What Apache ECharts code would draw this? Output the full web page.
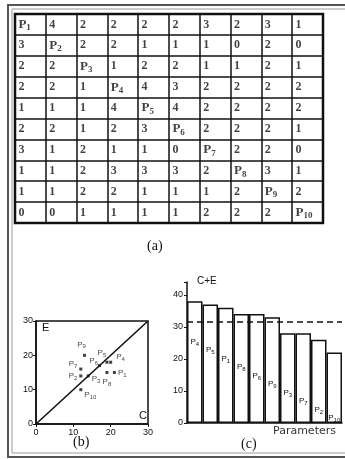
<!DOCTYPE html>
<html>
<head>
<meta charset="utf-8">
<script src="https://cdn.jsdelivr.net/npm/echarts@6/dist/echarts.min.js"></script>
<style>
  html, body { margin: 0; padding: 0; background: #fff; }
  #chart { width: 345px; height: 459px; }
</style>
</head>
<body>
<div id="chart"></div>
<script>
// Parameter names and the pairwise influence matrix (row influences column; diagonal holds the name)
const params = ['P1', 'P2', 'P3', 'P4', 'P5', 'P6', 'P7', 'P8', 'P9', 'P10'];
const matrixRows = [
  [null, 4, 2, 2, 2, 2, 3, 2, 3, 1],
  [3, null, 2, 2, 1, 1, 1, 0, 2, 0],
  [2, 2, null, 1, 2, 2, 1, 1, 2, 1],
  [2, 2, 1, null, 4, 3, 2, 2, 2, 2],
  [1, 1, 1, 4, null, 4, 2, 2, 2, 2],
  [2, 2, 1, 2, 3, null, 2, 2, 2, 1],
  [3, 1, 2, 1, 1, 0, null, 2, 2, 0],
  [1, 1, 2, 3, 3, 3, 2, null, 3, 1],
  [1, 1, 2, 2, 1, 1, 1, 2, null, 2],
  [0, 0, 1, 1, 1, 1, 2, 2, 2, null]
];

// Cause (C) and effect (E) totals per parameter
const causeC = [21, 12, 14, 20, 19, 17, 12, 19, 13, 12];
const effectE = [15, 14, 14, 18, 18, 17, 16, 15, 20, 10];

// Interactive intensity C+E, ranked
const rankedParams = ['P4', 'P5', 'P1', 'P8', 'P6', 'P9', 'P3', 'P7', 'P2', 'P10'];
const rankedCE = [38, 37, 36, 34, 34, 33, 28, 28, 26, 22];
const meanCE = 31.6;

const ink = '#111';

function pName(name) {
  return '{p|P}{s|' + name.slice(1) + '}';
}

// Table cells: [column, row, text]
const cellData = [];
matrixRows.forEach(function (row, r) {
  row.forEach(function (v, c) {
    cellData.push([c, r, v === null ? params[r] : String(v)]);
  });
});

// Label placement for the cause/effect points
const pointLabel = {
  P1: { position: 'right', offset: [0, 0] },
  P2: { position: 'left', offset: [0, 0] },
  P3: { position: 'right', offset: [0, 3] },
  P4: { position: 'right', offset: [2, -5] },
  P5: { position: 'top', offset: [-5, 0] },
  P6: { position: 'left', offset: [2, -5] },
  P7: { position: 'left', offset: [0, -5] },
  P8: { position: 'bottom', offset: [0, 0] },
  P9: { position: 'top', offset: [-3, -2] },
  P10: { position: 'right', offset: [0, 5] }
};

const scatterData = params.map(function (p, i) {
  return {
    name: p,
    value: [causeC[i], effectE[i]],
    label: pointLabel[p]
  };
});

const chart = echarts.init(document.getElementById('chart'), null, { renderer: 'canvas' });

const smallRich = {
  p: { fontSize: 8, color: ink, fontFamily: 'Liberation Sans' },
  s: { fontSize: 6, color: ink, fontFamily: 'Liberation Sans', padding: [5, 0, 0, 0] }
};

const option = {
  backgroundColor: '#fff',
  animation: false,
  textStyle: { fontFamily: 'Liberation Serif', color: ink },
  graphic: [
    { type: 'rect', shape: { x: 8, y: 5, width: 400, height: 452 }, style: { fill: 'none', stroke: '#555', lineWidth: 2 }, silent: true },
    { type: 'rect', shape: { x: 12, y: 9, width: 400, height: 444 }, style: { fill: 'none', stroke: '#999', lineWidth: 1 }, silent: true },
    { type: 'text', left: 147, top: 239, style: { text: '(a)', font: '14px "Liberation Serif"', fill: ink } },
    { type: 'text', left: 73, top: 435, style: { text: '(b)', font: '14px "Liberation Serif"', fill: ink } },
    { type: 'text', left: 241, top: 437, style: { text: '(c)', font: '14px "Liberation Serif"', fill: ink } }
  ],
  grid: [
    { left: 15, top: 14, width: 308, height: 209, show: true, borderColor: ink, borderWidth: 2.5, backgroundColor: '#fff' },
    { left: 36, top: 321, width: 112, height: 103, show: true, borderColor: ink, borderWidth: 1.5 },
    { left: 187, top: 282, width: 155, height: 141 }
  ],
  xAxis: [
    {
      gridIndex: 0, type: 'category', data: params, boundaryGap: true,
      axisLine: { show: false }, axisTick: { show: false }, axisLabel: { show: false },
      splitLine: { show: true, lineStyle: { color: ink, width: 1.5 } }
    },
    {
      gridIndex: 1, type: 'value', min: 0, max: 30, interval: 10,
      name: 'C', nameLocation: 'end', nameGap: -9,
      nameTextStyle: { fontFamily: 'Liberation Sans', fontSize: 11, color: ink, verticalAlign: 'bottom', padding: [0, 0, 3, 0] },
      axisLine: { show: true, lineStyle: { color: ink, width: 1.5 } },
      axisTick: { show: true, length: 3, lineStyle: { color: ink } },
      axisLabel: { fontFamily: 'Liberation Sans', fontSize: 9, color: ink, margin: 4 },
      splitLine: { show: false }
    },
    {
      gridIndex: 2, type: 'category', data: rankedParams, boundaryGap: true,
      name: 'Parameters', nameLocation: 'end', nameGap: -69,
      nameTextStyle: { fontFamily: 'DejaVu Sans', fontSize: 11, color: '#333', align: 'left', verticalAlign: 'top', padding: [3, 0, 0, 0] },
      axisLine: { show: true, lineStyle: { color: ink, width: 1.5 } },
      axisTick: { show: false }, axisLabel: { show: false }, splitLine: { show: false }
    }
  ],
  yAxis: [
    {
      gridIndex: 0, type: 'category', data: params, inverse: true, boundaryGap: true,
      axisLine: { show: false }, axisTick: { show: false }, axisLabel: { show: false },
      splitLine: { show: true, lineStyle: { color: ink, width: 1.5 } }
    },
    {
      gridIndex: 1, type: 'value', min: 0, max: 30, interval: 10,
      name: 'E', nameLocation: 'end', nameGap: -12,
      nameTextStyle: { fontFamily: 'Liberation Sans', fontSize: 11, color: ink, align: 'left', padding: [0, 0, 0, 6] },
      axisLine: { show: true, lineStyle: { color: ink, width: 1.5 } },
      axisTick: { show: true, length: 3, lineStyle: { color: ink } },
      axisLabel: { fontFamily: 'Liberation Sans', fontSize: 9, color: ink, margin: 3 },
      splitLine: { show: false }
    },
    {
      gridIndex: 2, type: 'value', min: 0, max: 44, interval: 10,
      name: 'C+E', nameLocation: 'end', nameGap: -4,
      nameTextStyle: { fontFamily: 'Liberation Sans', fontSize: 10, color: ink, align: 'left', padding: [0, 0, 0, 10] },
      axisLine: { show: true, lineStyle: { color: ink, width: 1.5 } },
      axisTick: { show: true, length: 3, lineStyle: { color: ink } },
      axisLabel: {
        fontFamily: 'Liberation Sans', fontSize: 9, color: ink, margin: 4,
        formatter: function (v) { return v % 10 === 0 ? String(v) : ''; }
      },
      splitLine: { show: false }
    }
  ],
  series: [
    {
      // table cell texts
      type: 'scatter', xAxisIndex: 0, yAxisIndex: 0,
      data: cellData, symbolSize: 1, itemStyle: { color: 'rgba(0,0,0,0)' },
      label: {
        show: true, position: 'inside', align: 'left', offset: [-12, 0],
        formatter: function (p) {
          const t = p.value[2];
          return t.charAt(0) === 'P' ? '{bp|P}{bs|' + t.slice(1) + '}' : '{d|' + t + '}';
        },
        rich: {
          d: { fontFamily: 'Liberation Serif', fontWeight: 'bold', fontSize: 12, color: ink },
          bp: { fontFamily: 'Liberation Serif', fontWeight: 'bold', fontSize: 13, color: ink },
          bs: { fontFamily: 'Liberation Serif', fontWeight: 'bold', fontSize: 9, color: ink, padding: [7, 0, 0, 0] }
        }
      }
    },
    {
      // line C = E
      type: 'line', xAxisIndex: 1, yAxisIndex: 1,
      data: [[0, 0], [30, 30]], symbol: 'none',
      lineStyle: { color: ink, width: 1.6 }
    },
    {
      type: 'scatter', xAxisIndex: 1, yAxisIndex: 1,
      data: scatterData, symbol: 'rect', symbolSize: 3,
      itemStyle: { color: ink },
      label: {
        show: true, distance: 2,
        formatter: function (p) { return pName(p.name); },
        rich: smallRich
      }
    },
    {
      type: 'bar', xAxisIndex: 2, yAxisIndex: 2,
      data: rankedCE, barCategoryGap: '0%',
      itemStyle: { color: '#fff', borderColor: ink, borderWidth: 1.5 },
      label: {
        show: true, position: 'insideBottom',
        formatter: function (p) { return pName(p.name); },
        rich: smallRich
      },
      labelLayout: function (p) {
        return {
          x: p.rect.x + p.rect.width / 2 - p.labelRect.width / 2,
          y: p.rect.y + p.rect.height - 87 + 8.5 * p.dataIndex
        };
      },
      markLine: {
        silent: true, symbol: 'none', label: { show: false },
        lineStyle: { color: ink, width: 1.5, type: [6, 4] },
        data: [{ yAxis: meanCE }]
      }
    }
  ]
};

chart.setOption(option);
</script>
</body>
</html>
